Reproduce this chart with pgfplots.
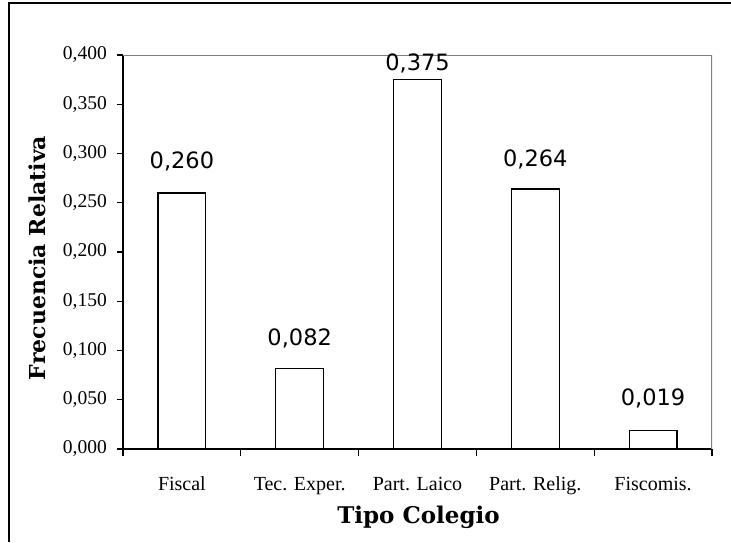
\documentclass[border=0pt]{standalone}
\usepackage{fontspec}
\setmainfont{Liberation Serif}
\newfontfamily\barfont{DejaVu Sans}
\newfontfamily\titlefont{DejaVu Serif}
\usepackage{pgfplots}
\pgfplotsset{compat=1.18}
\usepackage{pgfplotstable}

\pgfplotstableread{
x y off
0 0.260 21
1 0.082 20
2 0.375 6
3 0.264 19
4 0.019 22
}\datatable

\begin{document}
\begin{tikzpicture}
\useasboundingbox (-123pt,-93pt) rectangle (608pt,449pt);
\draw[line width=1.2pt] (-114pt,-93pt) -- (-114pt,446pt) -- (608pt,446pt);
\begin{axis}[
  at={(0pt,0pt)}, anchor=south west,
  scale only axis, width=589pt, height=394pt,
  xmin=-0.5, xmax=4.5, ymin=0, ymax=0.4,
  axis x line*=bottom, axis y line*=left,
  axis line style={line width=1.2pt, -},
  xtick={0,1,2,3,4},
  xticklabels={Fiscal, Tec. Exper., Part. Laico, Part. Relig., Fiscomis.},
  minor xtick={-0.5,0.5,1.5,2.5,3.5,4.5},
  ytick={0,0.05,0.1,0.15,0.2,0.25,0.3,0.35,0.4},
  tick align=outside,
  major tick length=6pt, minor tick length=7pt,
  tick style={black, line width=1.2pt},
  major x tick style={draw=none},
  /pgf/number format/fixed,
  /pgf/number format/fixed zerofill,
  /pgf/number format/precision=3,
  /pgf/number format/use comma,
  /pgf/number format/assume math mode=true,
  yticklabel style={font=\fontsize{19.5}{22}\selectfont, inner sep=0pt, anchor=east, xshift=-10pt},
  xticklabel style={font=\fontsize{20}{22}\selectfont, inner sep=0pt, anchor=base, yshift=-35pt},
  ylabel={Frecuencia Relativa},
  ylabel style={font=\titlefont\bfseries\fontsize{22}{26}\selectfont, at={(axis description cs:-0.1324,0.485)}, anchor=base, rotate=0},
  xlabel={Tipo Colegio},
  xlabel style={font=\titlefont\bfseries\fontsize{23}{26}\selectfont, at={(axis description cs:0.5017,-0.1878)}, anchor=base},
  ybar, bar width=47.7pt,
  visualization depends on={\thisrow{off} \as \myoff},
  nodes near coords,
  nodes near coords style={font=\barfont\fontsize{22.5}{26}\selectfont, anchor=south, inner sep=0pt, yshift=\myoff pt},
]
\addplot[draw=black, fill=white, line width=1.2pt, point meta=y] table[x=x, y=y] {\datatable};
\draw[color=gray, line width=1.2pt] (rel axis cs:0,1) -- (rel axis cs:1,1) -- (rel axis cs:1,0);
\end{axis}
\end{tikzpicture}
\end{document}
